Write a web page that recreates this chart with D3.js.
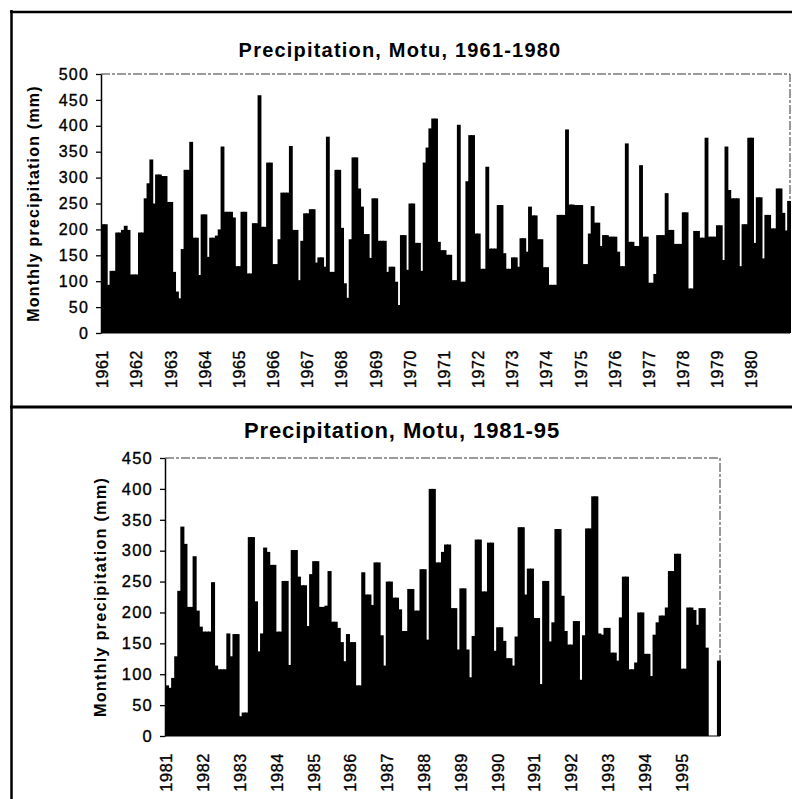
<!DOCTYPE html>
<html>
<head>
<meta charset="utf-8">
<script src="https://cdn.jsdelivr.net/npm/d3@7/dist/d3.min.js"></script>
<style>
  body { margin: 0; background: #fff; }
  svg { display: block; font-family: 'Liberation Sans', Arial, sans-serif; }
</style>
</head>
<body>
<div id="chart"></div>
<script>
// Monthly precipitation (mm)
const precipTop = [
  210, 210, 93, 120, 120, 194, 194, 199, 207, 199, 113, 113, 113,
  194, 194, 260, 289, 335, 250, 306, 306, 303, 303, 253, 253,
  118, 80, 67, 162, 315, 315, 369, 184, 184, 112, 229, 229,
  147, 184, 184, 188, 200, 360, 234, 234, 234, 223, 129, 129,
  234, 234, 115, 115, 212, 212, 459, 205, 205, 329, 329, 133,
  133, 181, 271, 271, 271, 361, 199, 199, 102, 178, 231, 231,
  239, 239, 136, 146, 146, 128, 379, 118, 118, 315, 315, 203,
  96, 68, 181, 339, 339, 279, 244, 191, 191, 145, 260, 260,
  178, 178, 178, 118, 128, 128, 99, 54, 189, 189, 122, 250, 250,
  174, 174, 120, 329, 358, 395, 414, 414, 176, 160, 160, 151,
  151, 102, 102, 402, 99, 99, 293, 382, 382, 192, 192, 124,
  124, 321, 163, 163, 163, 247, 247, 154, 124, 124, 146, 146,
  128, 183, 183, 157, 244, 227, 227, 181, 181, 127, 127, 93,
  93, 93, 228, 228, 228, 393, 248, 248, 247, 247, 247, 133,
  133, 192, 245, 213, 213, 168, 189, 189, 186, 186, 186, 157,
  129, 129, 366, 176, 176, 168, 168, 324, 186, 186, 97, 97,
  114, 189, 189, 189, 270, 199, 199, 172, 172, 172,
  233, 233, 86, 86, 197, 197, 184, 184, 377, 186, 186,
  186, 208, 208, 141, 360, 276, 260, 260, 260, 129, 210, 210,
  377, 377, 174, 262, 262, 144, 228, 228, 202, 202, 279, 279, 232, 198, 255
];

const precipBottom = [
  82, 78, 94, 129, 235, 339, 311, 209, 209, 291, 203, 177,
  169, 169, 169, 249, 114, 108, 108, 108, 166, 129, 165, 165,
  32, 38, 38, 322, 322, 218, 137, 166, 305, 298, 277, 277,
  169, 169, 251, 251, 115, 301, 301, 258, 244, 244, 178, 262,
  283, 283, 209, 209, 211, 267, 185, 185, 175, 152, 121, 165,
  152, 152, 82, 82, 265, 229, 229, 212, 281, 281, 163, 114,
  250, 250, 224, 224, 205, 170, 170, 238, 238, 203, 203, 270,
  270, 156, 400, 400, 281, 281, 298, 310, 310, 207, 207, 140,
  239, 239, 140, 95, 162, 318, 318, 234, 234, 313, 313, 138,
  176, 176, 154, 126, 126, 114, 161, 338, 338, 229, 271, 271,
  191, 191, 84, 251, 251, 153, 184, 335, 335, 227, 170, 148,
  148, 186, 186, 91, 163, 336, 336, 388, 388, 166, 164, 175,
  175, 135, 135, 122, 192, 258, 258, 108, 108, 119, 200, 200,
  133, 133, 97, 164, 184, 195, 195, 208, 267, 267, 295, 295,
  109, 109, 208, 208, 204, 180, 207, 207, 143, 0, 0, 0, 122
];

const yearsTop = ['1961', '1962', '1963', '1964', '1965', '1966', '1967', '1968', '1969', '1970',
  '1971', '1972', '1973', '1974', '1975', '1976', '1977', '1978', '1979', '1980'];
const yearsBottom = ['1981', '1982', '1983', '1984', '1985', '1986', '1987', '1988',
  '1989', '1990', '1991', '1992', '1993', '1994', '1995'];

const ticksTop = [0, 50, 100, 150, 200, 250, 300, 350, 400, 450, 500];
const ticksBottom = [0, 50, 100, 150, 200, 250, 300, 350, 400, 450];

const width = 792;
const height = 799;
const font = "'Liberation Sans', Arial, sans-serif";

const svg = d3.select('#chart')
  .append('svg')
  .attr('width', width)
  .attr('height', height);

// Outer frame (left edge, top edge, divider between the two panels)
const frame = svg.append('g').attr('class', 'frame').attr('stroke', '#000');
frame.append('line').attr('x1', 11.5).attr('x2', 11.5).attr('y1', 10).attr('y2', height).attr('stroke-width', 2.5);
frame.append('line').attr('x1', 10).attr('x2', width).attr('y1', 12).attr('y2', 12).attr('stroke-width', 2.5);
frame.append('line').attr('x1', 10).attr('x2', width).attr('y1', 407).attr('y2', 407).attr('stroke-width', 3);

function renderPanel(cfg) {
  const g = svg.append('g').attr('class', 'panel');

  const x = d3.scaleBand()
    .domain(d3.range(cfg.values.length))
    .range([cfg.left, cfg.right])
    .paddingInner(0)
    .paddingOuter(0);

  const y = d3.scaleLinear()
    .domain([0, cfg.yMax])
    .range([cfg.bottom, cfg.top]);

  // Title
  g.append('text')
    .attr('x', cfg.titleX)
    .attr('y', cfg.titleY)
    .attr('text-anchor', 'middle')
    .attr('font-weight', 'bold')
    .attr('font-size', cfg.titleSize)
    .attr('letter-spacing', cfg.titleSpacing)
    .attr('fill', '#000')
    .text(cfg.title);

  // Plot border (top and right, broken line like the scan)
  g.append('path')
    .attr('d', `M${cfg.left},${cfg.top}H${cfg.right}V${cfg.bottom}`)
    .attr('fill', 'none')
    .attr('stroke', '#333')
    .attr('stroke-width', 1)
    .attr('stroke-dasharray', '9,2,3,2');

  // Bars: drawn a little wider than the band so neighbours merge into a solid mass
  g.append('g')
    .attr('class', 'bars')
    .selectAll('rect')
    .data(cfg.values)
    .join('rect')
    .attr('x', (d, i) => x(i))
    .attr('width', x.bandwidth() + 1)
    .attr('y', d => y(d))
    .attr('height', d => y(0) - y(d))
    .attr('fill', '#000');

  // Y axis
  const yAxis = g.append('g')
    .attr('transform', `translate(${cfg.left},0)`)
    .call(d3.axisLeft(y).tickValues(cfg.ticks).tickSize(5).tickSizeOuter(0).tickPadding(7));
  yAxis.select('.domain').attr('stroke', '#000').attr('stroke-width', 1.5);
  yAxis.selectAll('.tick line').attr('stroke', '#000').attr('stroke-width', 1.3);
  yAxis.selectAll('text')
    .attr('font-family', font)
    .attr('font-size', cfg.tickSize)
    .attr('letter-spacing', 1.2)
    .attr('fill', '#000')
    .attr('stroke', '#000')
    .attr('stroke-width', 0.35);

  // X baseline
  g.append('line')
    .attr('x1', cfg.left)
    .attr('x2', cfg.right)
    .attr('y1', y(0))
    .attr('y2', y(0))
    .attr('stroke', '#000')
    .attr('stroke-width', 1.2);

  // Year labels, one per January
  const xAxis = g.append('g')
    .attr('transform', `translate(0,${cfg.bottom})`)
    .call(d3.axisBottom(x)
      .tickValues(cfg.years.map((yr, k) => k * 12))
      .tickFormat((d, k) => cfg.years[k])
      .tickSize(0)
      .tickSizeOuter(0));
  xAxis.select('.domain').remove();
  xAxis.selectAll('text')
    .attr('font-family', font)
    .attr('font-size', cfg.yearSize)
    .attr('letter-spacing', 0.6)
    .attr('fill', '#000')
    .attr('stroke', '#000')
    .attr('stroke-width', 0.35)
    .attr('text-anchor', 'end')
    .attr('transform', `translate(0,${cfg.labelGap}) rotate(-90)`)
    .attr('x', 0)
    .attr('y', 0)
    .attr('dy', '0.36em');

  // Y axis title
  g.append('text')
    .attr('transform', `translate(${cfg.yTitleX},${(cfg.top + cfg.bottom) / 2}) rotate(-90)`)
    .attr('text-anchor', 'middle')
    .attr('dy', '0.36em')
    .attr('font-weight', 'bold')
    .attr('font-size', cfg.yTitleSize)
    .attr('letter-spacing', 1.2)
    .attr('fill', '#000')
    .text('Monthly precipitation (mm)');
}

renderPanel({
  values: precipTop,
  years: yearsTop,
  ticks: ticksTop,
  yMax: 500,
  left: 101,
  right: 790,
  top: 74,
  bottom: 333,
  title: 'Precipitation, Motu, 1961-1980',
  titleX: 400,
  titleY: 57,
  titleSize: 20,
  titleSpacing: 1.2,
  tickSize: 16,
  yearSize: 16,
  labelGap: 17,
  yTitleX: 33,
  yTitleSize: 16
});

renderPanel({
  values: precipBottom,
  years: yearsBottom,
  ticks: ticksBottom,
  yMax: 450,
  left: 165,
  right: 720,
  top: 458,
  bottom: 736,
  title: 'Precipitation, Motu, 1981-95',
  titleX: 402,
  titleY: 438,
  titleSize: 22,
  titleSpacing: 0.9,
  tickSize: 16.5,
  yearSize: 16.3,
  labelGap: 17,
  yTitleX: 100,
  yTitleSize: 16.3
});
</script>
</body>
</html>
